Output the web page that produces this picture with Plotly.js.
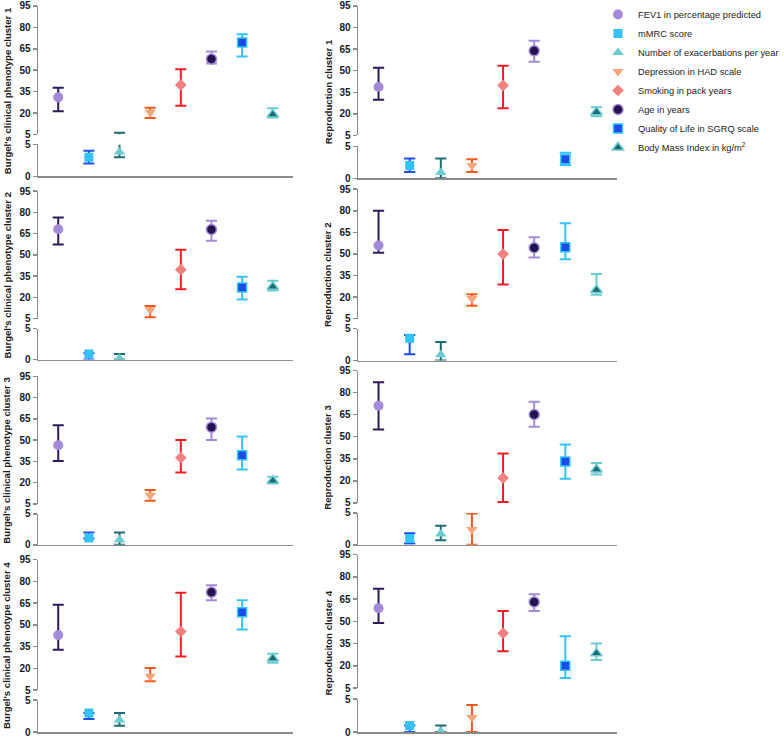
<!DOCTYPE html>
<html>
<head>
<meta charset="utf-8">
<script src="https://cdn.plot.ly/plotly-3.0.1.min.js"></script>
<style>
  html, body { margin: 0; padding: 0; background: #fff; }
  #chart { width: 784px; height: 738px; }
</style>
</head>
<body>
<div id="chart"></div>
<script>
// series (same order in every panel)
var seriesNames = [
    'FEV1 in percentage predicted',
    'mMRC score',
    'Number of exacerbations per year',
    'Depression in HAD scale',
    'Smoking in pack years',
    'Age in years',
    'Quality of Life in SGRQ scale',
    'Body Mass Index in kg/m<sup>2</sup>'
];

var panelTitles = [
    "Burgel's clinical phenotype cluster 1", 'Reproduction cluster 1',
    "Burgel's clinical phenotype cluster 2", 'Reproduction cluster 2',
    "Burgel's clinical phenotype cluster 3", 'Reproduction cluster 3',
    "Burgel's clinical phenotype cluster 4", 'Reproduciton cluster 4'
];

// values: centre, lower end, upper end
var burgel1Mid  = [31.0, 3.0, 3.8, 20.5, 39.7, 57.8, 69.4, 19.0];
var burgel1Low  = [21.3, 2.0, 3.0, 16.6, 25.2, 54.8, 59.7, 16.8];
var burgel1High = [37.8, 4.0, 6.2, 23.8, 50.6, 63.1, 75.2, 23.4];

var repro1Mid  = [38.7, 2.0, 0.9, 2.0, 39.8, 63.8, 3.0, 21.2];
var repro1Low  = [29.9, 1.0, 0.0, 1.0, 23.9, 56.2, 2.1, 18.4];
var repro1High = [52.1, 3.1, 3.1, 3.0, 53.5, 70.8, 4.0, 24.6];

var burgel2Mid  = [68.2, 0.9, 0.2, 11.3, 39.6, 68.0, 27.1, 27.6];
var burgel2Low  = [57.4, 0.0, 0.0, 6.0, 25.8, 60.0, 18.6, 25.0];
var burgel2High = [76.4, 1.0, 0.9, 14.0, 53.7, 74.1, 34.6, 31.8];

var repro2Mid  = [55.9, 3.5, 0.9, 19.0, 49.9, 54.3, 54.7, 25.0];
var repro2Low  = [50.8, 1.0, 0.0, 14.0, 28.7, 47.6, 46.4, 21.6];
var repro2High = [80.0, 4.0, 2.9, 22.0, 66.7, 61.6, 71.3, 36.0];

var burgel3Mid  = [46.4, 1.1, 0.8, 11.1, 37.7, 59.2, 39.4, 21.4];
var burgel3Low  = [35.4, 1.0, 0.0, 7.3, 27.2, 50.1, 29.3, 19.5];
var burgel3High = [60.6, 2.0, 2.0, 14.8, 50.1, 65.3, 52.7, 24.2];

var repro3Mid  = [71.0, 1.0, 1.7, 2.4, 22.0, 65.1, 33.1, 27.7];
var repro3Low  = [54.9, 0.2, 0.7, 0.0, 5.7, 56.7, 21.5, 24.3];
var repro3High = [87.1, 1.8, 3.0, 4.9, 38.6, 73.7, 44.7, 32.1];

var burgel4Mid  = [43.0, 3.0, 1.9, 14.6, 45.5, 72.6, 58.8, 26.8];
var burgel4Low  = [32.9, 2.05, 1.0, 11.2, 28.3, 67.1, 46.9, 24.0];
var burgel4High = [63.9, 3.0, 3.0, 20.3, 72.3, 77.4, 67.1, 30.2];

var repro4Mid  = [59.0, 1.0, 0.1, 2.2, 42.1, 63.1, 20.2, 28.5];
var repro4Low  = [49.0, 0.0, 0.0, 0.0, 30.0, 57.0, 11.9, 24.0];
var repro4High = [72.0, 1.0, 1.0, 4.1, 57.0, 68.4, 40.0, 35.2];

var upperTicks = [5, 20, 35, 50, 65, 80, 95];
var lowerTicks = [0, 5];

var panelData = [
    [burgel1Mid, burgel1Low, burgel1High], [repro1Mid, repro1Low, repro1High],
    [burgel2Mid, burgel2Low, burgel2High], [repro2Mid, repro2Low, repro2High],
    [burgel3Mid, burgel3Low, burgel3High], [repro3Mid, repro3Low, repro3High],
    [burgel4Mid, burgel4Low, burgel4High], [repro4Mid, repro4Low, repro4High]
];

// styling per series
var symbols = ['circle', 'square', 'triangle-up', 'triangle-down', 'diamond', 'circle', 'square', 'triangle-up'];
var markerColors = ['#a48bd9', '#35c3f6', '#6bcbd0', '#f9a57a', '#f38080', '#23134f', '#1c4be8', '#1f6b73'];
var errorColors  = ['#2e1a5c', '#1d4ff0', '#1f6b73', '#f4581c', '#ef1c24', '#a48bd9', '#35c3f6', '#6bcbd0'];
var markerSizes  = [10, 9, 10, 10, 9, 10, 9, 10];
var outlined     = [false, false, false, false, false, true, true, true];

var W = 784, H = 738;
function py(px) { return 1 - px / H; }

// pixel rows: [top of 95, bottom at 5, top of lower 5, bottom at 0]
var leftRows  = [[3, 132, 142, 174], [189, 317, 327, 358], [375, 503, 513, 544], [559, 690, 700, 732]];
var rightRows = [[3, 133, 144, 176], [187, 317, 327, 359], [369, 502, 512, 544], [554, 688, 699, 732]];
var colX = [[38, 293], [358, 617]];
var CAP = 0.18;   // half cap width, in category units

var FONT = 'Liberation Sans, Arial, sans-serif';
var AXIS_GREY = '#8c8c8c';

var barTraces = [];
var markerTraces = [];
var layout = {
    width: W, height: H,
    margin: { l: 0, r: 0, t: 0, b: 0 },
    paper_bgcolor: '#fff', plot_bgcolor: 'rgba(0,0,0,0)',
    font: { family: FONT, color: '#1a1a1a' },
    showlegend: true,
    legend: {
        x: 1, y: py(-3), xanchor: 'right', yanchor: 'top',
        font: { family: FONT, size: 9.3, color: '#222' },
        itemwidth: 30, bgcolor: 'rgba(0,0,0,0)', tracegroupgap: 0
    },
    annotations: []
};

function yAxis(domain, xName, range, ticks) {
    return {
        domain: domain, anchor: xName, range: range,
        tickmode: 'array', tickvals: ticks, ticktext: ticks.map(String),
        ticks: 'outside', ticklen: 4, tickwidth: 1.5, tickcolor: AXIS_GREY,
        showline: true, linecolor: AXIS_GREY, linewidth: 1.5,
        showgrid: false, zeroline: false, fixedrange: true,
        tickfont: { family: FONT, size: 10, weight: 'bold', color: '#1a1a1a' }
    };
}

function inside(v, range) { return v >= range[0] && v <= range[1]; }

// part of an error bar that falls inside one section of the broken axis
function barPath(s, lo, hi, range) {
    var xs = [], ys = [];
    var a = Math.max(lo, range[0]), b = Math.min(hi, range[1]);
    if (a > b) return null;
    xs.push(s, s, null); ys.push(a, b, null);
    if (inside(lo, range)) { xs.push(s - CAP, s + CAP, null); ys.push(lo, lo, null); }
    if (inside(hi, range)) { xs.push(s - CAP, s + CAP, null); ys.push(hi, hi, null); }
    return { x: xs, y: ys };
}

panelData.forEach(function (d, p) {
    var col = p % 2, row = Math.floor(p / 2);
    var r = col === 0 ? leftRows[row] : rightRows[row];
    var xName = p === 0 ? 'x' : 'x' + (p + 1);
    var yUp = p === 0 ? 'y' : 'y' + (2 * p + 1), yLo = 'y' + (2 * p + 2);

    layout[p === 0 ? 'xaxis' : 'xaxis' + (p + 1)] = {
        domain: [colX[col][0] / W, colX[col][1] / W], anchor: yLo,
        range: [-0.66, 7.66], showline: true, linecolor: AXIS_GREY, linewidth: 1.5,
        showticklabels: false, ticks: '', showgrid: false, zeroline: false, fixedrange: true
    };
    layout[p === 0 ? 'yaxis' : 'yaxis' + (2 * p + 1)] = yAxis([py(r[1]), py(r[0])], xName, [5, 95], upperTicks);
    layout['yaxis' + (2 * p + 2)] = yAxis([py(r[3]), py(r[2])], xName, [0, 5], lowerTicks);

    layout.annotations.push({
        text: panelTitles[p], textangle: -90, showarrow: false,
        xref: 'paper', yref: 'paper',
        x: (col === 0 ? 7 : 328) / W, y: py((r[0] + r[3]) / 2),
        xanchor: 'center', yanchor: 'middle',
        font: { family: FONT, size: 9.6, weight: 'bold', color: '#1a1a1a' }
    });

    var mid = d[0], low = d[1], high = d[2];
    [[yUp, [5, 95]], [yLo, [0, 5]]].forEach(function (sec) {
        seriesNames.forEach(function (name, s) {
            var path = barPath(s, low[s], high[s], sec[1]);
            if (path) {
                barTraces.push({
                    type: 'scatter', mode: 'lines', x: path.x, y: path.y,
                    xaxis: xName, yaxis: sec[0], showlegend: false, hoverinfo: 'skip',
                    line: { color: errorColors[s], width: 2 }
                });
            }
            if (!inside(mid[s], sec[1])) return;
            markerTraces.push({
                type: 'scatter', mode: 'markers',
                x: [s], y: [mid[s]], xaxis: xName, yaxis: sec[0],
                name: name, legendgroup: name, legendrank: s + 1,
                showlegend: p === 0,
                cliponaxis: true, hoverinfo: 'skip',
                marker: {
                    symbol: symbols[s], size: markerSizes[s], color: markerColors[s],
                    line: { color: errorColors[s], width: outlined[s] ? 1.5 : 0 }
                }
            });
        });
    });
});

Plotly.newPlot('chart', barTraces.concat(markerTraces), layout, { staticPlot: true });
</script>
</body>
</html>
